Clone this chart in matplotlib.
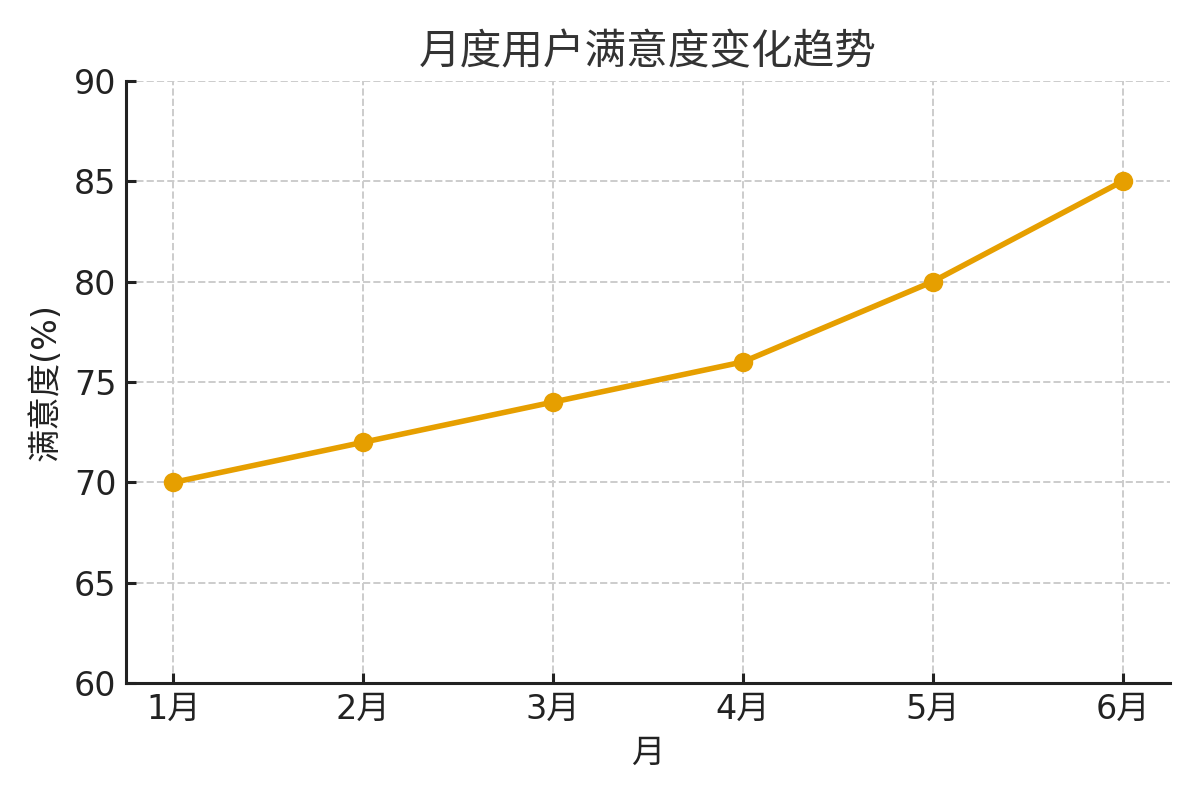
import matplotlib
matplotlib.use('Agg')
import matplotlib.pyplot as plt

# DejaVu for digits and latin, CJK font for the Chinese characters
plt.rcParams['font.family'] = ['DejaVu Sans', 'Noto Sans CJK SC']

# data
months = ['1月', '2月', '3月', '4月', '5月', '6月']
satisfaction = [70, 72, 74, 76, 80, 85]

fig, ax = plt.subplots(figsize=(6, 4), dpi=200)
x = range(len(months))
ax.plot(x, satisfaction, color='#E69F00', linewidth=2, marker='o', markersize=6)

ax.set_xticks(list(x))
ax.set_xticklabels(months)
ax.set_ylim(60, 90)
ax.set_yticks(range(60, 91, 5))

ax.set_title('月度用户满意度变化趋势', fontsize=15, color='#333333')
ax.set_xlabel('月', fontsize=12, color='#222222')
ax.set_ylabel('满意度(%)', fontsize=12, color='#222222')

ax.grid(True, linestyle='--', color='#cccccc', linewidth=0.7)
ax.set_axisbelow(True)
ax.spines['top'].set_visible(False)
ax.spines['right'].set_visible(False)
for s in ['left', 'bottom']:
    ax.spines[s].set_linewidth(1.1)
    ax.spines[s].set_color('#222222')
ax.tick_params(direction='in', labelsize=12, length=3.5, width=1.1, colors='#222222')

fig.subplots_adjust(left=0.105, right=0.975, top=0.899, bottom=0.146)
plt.savefig('out.png')
